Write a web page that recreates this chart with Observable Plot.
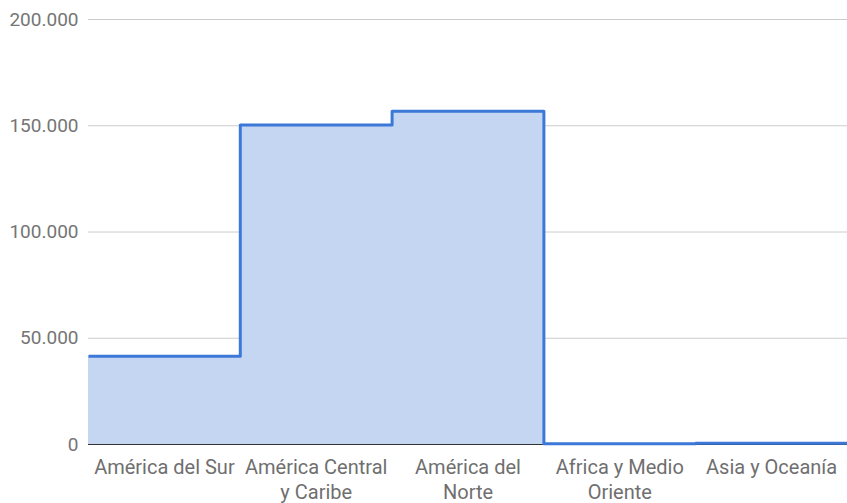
<!DOCTYPE html>
<html>
<head>
<meta charset="utf-8">
<script src="https://cdn.jsdelivr.net/npm/d3@7"></script>
<script src="https://cdn.jsdelivr.net/npm/@observablehq/plot@0.6"></script>
<style>
  html, body { margin: 0; padding: 0; background: #fff; }
  #chart svg { display: block; }
</style>
</head>
<body>
<div id="chart"></div>
<script>
const categories = [
  "América del Sur",
  "América Central\ny Caribe",
  "América del\nNorte",
  "Africa y Medio\nOriente",
  "Asia y Oceanía"
];
const values = [41500, 150300, 156800, 300, 600];
const yTicks = [0, 50000, 100000, 150000, 200000];

const data = categories.map((c, i) => ({i, v: values[i]}));
data.push({i: categories.length, v: values[values.length - 1]});

const fmt = d => d3.format(",")(d).replace(/,/g, ".");

const chart = Plot.plot({
  width: 847,
  height: 503,
  marginLeft: 88,
  marginRight: 0,
  marginTop: 19,
  marginBottom: 59,
  style: {fontFamily: "Roboto, sans-serif", fontSize: "19px", color: "#757575", background: "#fff"},
  x: {domain: [0, categories.length]},
  y: {domain: [0, 200000]},
  marks: [
    Plot.gridY(yTicks, {stroke: "#cccccc", strokeOpacity: 1, strokeWidth: 1}),
    Plot.areaY(data, {x: "i", y: "v", curve: "step-after", fill: "#c5d6f2", fillOpacity: 1}),
    Plot.ruleY([0], {stroke: "#333333", strokeWidth: 1.2}),
    Plot.lineY(data, {x: "i", y: "v", curve: "step-after", stroke: "#3b78d8", strokeWidth: 3, strokeLinejoin: "round", strokeLinecap: "butt"}),
    Plot.axisY({ticks: yTicks, tickSize: 0, tickPadding: 10, tickFormat: fmt, label: null, fill: "#757575", fontSize: 19}),
    Plot.axisX({ticks: categories.map((c, i) => i + 0.5), tickSize: 0, tickPadding: 12, tickFormat: t => categories[Math.floor(t)], label: null, fill: "#6f6f6f", fontSize: 20, lineHeight: 1.25})
  ]
});
document.getElementById("chart").appendChild(chart);
</script>
</body>
</html>
